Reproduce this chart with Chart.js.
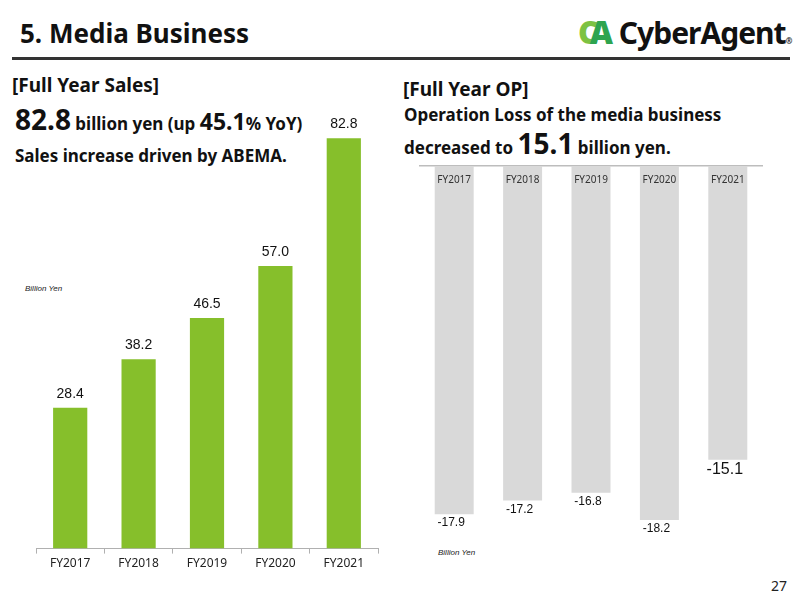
<!DOCTYPE html>
<html lang="en">
<head>
<meta charset="UTF-8">
<title>Media Business</title>
<script src="https://cdn.jsdelivr.net/npm/chart.js"></script>
<style>
  body { margin: 0; background: #fff; }
  #page { position: relative; width: 800px; height: 600px; overflow: hidden; font-family: "Noto Sans", sans-serif; color: #111; }
  .abs { position: absolute; white-space: nowrap; }
  #title { left: 20px; top: 15px; font-size: 26px; font-weight: 700; }
  #rule { left: 12px; top: 57px; width: 778px; height: 3px; background: #333; }
  #logo { left: 578px; top: 10px; font-size: 30px; font-weight: 700; letter-spacing: -1px; }
  #logo .c { color: #7dc242; font-weight: 900; font-size: 32px; }
  #logo .a { color: #2ea44f; font-weight: 900; font-size: 32px; margin-left: -8px; }
  #logo .reg { font-size: 8px; letter-spacing: 0; }
  .h2 { font-size: 19px; font-weight: 700; }
  .t16 { font-size: 17px; font-weight: 700; }
  .big { font-size: 28px; font-weight: 700; }
  .mid { font-size: 23px; font-weight: 700; }
  .unit { font-family: "Liberation Sans", Arial, sans-serif; font-style: italic; font-size: 8px; color: #222; }
  #pageno { left: 771px; top: 576px; font-size: 14px; font-family: "Noto Sans", sans-serif; color: #222; }
  canvas { position: absolute; }
</style>
</head>
<body>
<div id="page">
  <div class="abs" id="title">5. Media Business</div>
  <div class="abs" id="rule"></div>
  <div class="abs" id="logo"><span class="c">C</span><span class="a">A</span> CyberAgent<span class="reg">®</span></div>

  <div class="abs h2" style="left:12px; top:72px;">[Full Year Sales]</div>
  <div class="abs" style="left:15px; top:100px;"><span class="big">82.8</span><span class="t16"> billion yen (up </span><span class="mid">45.1</span><span class="t16">% YoY)</span></div>
  <div class="abs t16" style="left:15px; top:144px;">Sales increase driven by ABEMA.</div>
  <div class="abs unit" style="left:25px; top:284px;">Billion Yen</div>

  <div class="abs h2" style="left:403px; top:76px;">[Full Year OP]</div>
  <div class="abs t16" style="left:404px; top:103px;">Operation Loss of the media business</div>
  <div class="abs" style="left:404px; top:124px;"><span class="t16">decreased to </span><span class="big">15.1</span><span class="t16"> billion yen.</span></div>
  <div class="abs unit" style="left:438px; top:548px;">Billion Yen</div>

  <div class="abs" id="pageno">27</div>

  <canvas id="salesChart" width="362" height="500" style="left:26px; top:90px;"></canvas>
  <canvas id="opChart" width="362" height="420" style="left:410px; top:155px;"></canvas>
</div>

<script>
  const years = ['FY2017', 'FY2018', 'FY2019', 'FY2020', 'FY2021'];
  const salesValues = [28.4, 38.2, 46.5, 57.0, 82.8];
  const opValues = [-17.9, -17.2, -16.8, -18.2, -15.1];

  const labelFont = '"Liberation Sans", Arial, sans-serif';

  // value labels above the sales bars
  const salesLabels = {
    id: 'salesLabels',
    afterDatasetsDraw(chart) {
      const c = chart.ctx;
      const meta = chart.getDatasetMeta(0);
      c.save();
      c.fillStyle = '#111';
      c.textAlign = 'center';
      c.textBaseline = 'middle';
      c.font = '14px ' + labelFont;
      meta.data.forEach((bar, i) => {
        c.fillText(salesValues[i].toFixed(1), bar.x, bar.y - 14);
      });
      c.restore();
    }
  };

  // category names inside the top of OP bars, values under them
  const opLabels = {
    id: 'opLabels',
    afterDatasetsDraw(chart) {
      const c = chart.ctx;
      const meta = chart.getDatasetMeta(0);
      const top = chart.chartArea.top;
      c.save();
      c.textAlign = 'center';
      c.textBaseline = 'middle';
      meta.data.forEach((bar, i) => {
        c.fillStyle = '#333';
        c.font = '10px "Noto Sans", sans-serif';
        c.fillText(years[i], bar.x, top + 14);
        c.fillStyle = '#111';
        const last = i === opValues.length - 1;
        c.font = (last ? '16px ' : '12px ') + labelFont;
        c.fillText(opValues[i].toFixed(1), bar.x - 3, bar.y + (last ? 10 : 9));
      });
      c.restore();
    }
  };

  new Chart(document.getElementById('salesChart'), {
    type: 'bar',
    data: {
      labels: years,
      datasets: [{
        data: salesValues,
        backgroundColor: '#86bf2b',
        barPercentage: 0.5,
        categoryPercentage: 1.0
      }]
    },
    options: {
      responsive: false,
      animation: false,
      layout: { padding: { left: 10, right: 10, top: 10, bottom: 16 } },
      plugins: { legend: { display: false }, tooltip: { enabled: false } },
      scales: {
        x: {
          grid: { drawOnChartArea: false, tickLength: 5, color: '#b0b0b0' },
          border: { color: '#b0b0b0' },
          ticks: { color: '#222', padding: 3, font: { family: '"Noto Sans", sans-serif', size: 12 } }
        },
        y: { display: false, min: 0, max: 90.5 }
      }
    },
    plugins: [salesLabels]
  });

  new Chart(document.getElementById('opChart'), {
    type: 'bar',
    data: {
      labels: years,
      datasets: [{
        data: opValues,
        backgroundColor: '#d9d9d9',
        barPercentage: 0.57,
        categoryPercentage: 1.0
      }]
    },
    options: {
      responsive: false,
      animation: false,
      layout: { padding: { left: 10, right: 10, top: 3, bottom: 20 } },
      plugins: { legend: { display: false }, tooltip: { enabled: false } },
      scales: {
        x: {
          position: 'top',
          grid: { display: false },
          border: { display: true, color: '#bdbdbd', width: 1.5 },
          ticks: { display: false }
        },
        y: { display: false, min: -20, max: 0 }
      }
    },
    plugins: [opLabels]
  });
</script>
</body>
</html>
